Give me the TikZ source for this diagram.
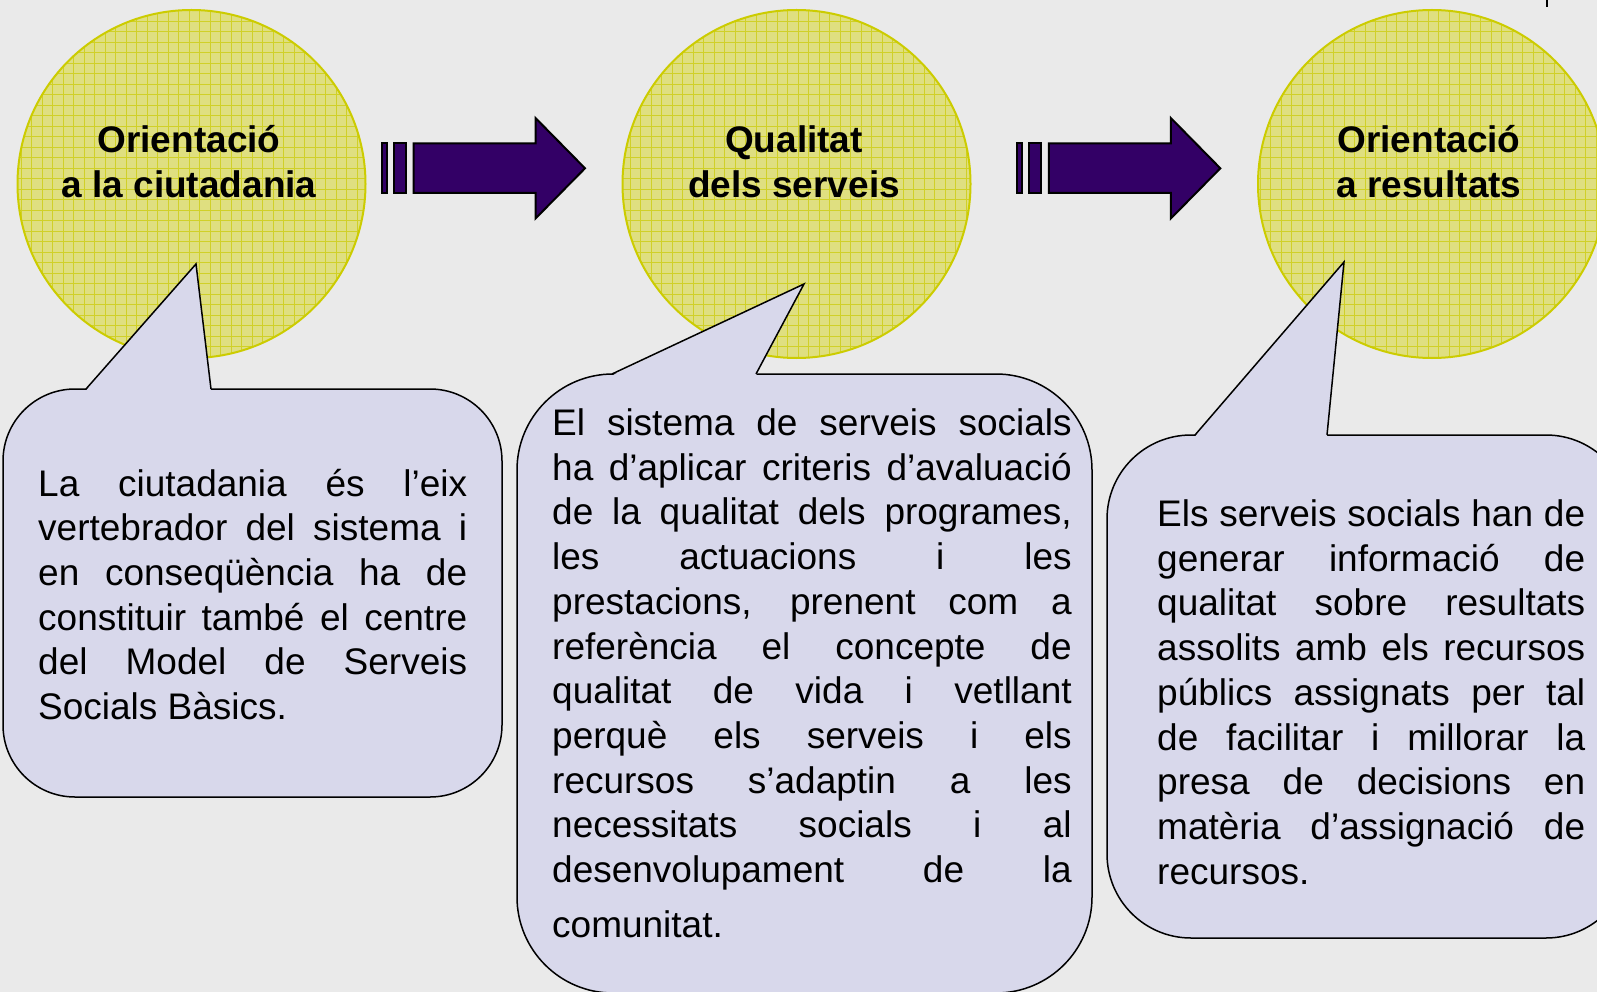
\documentclass[tikz,border=0pt]{standalone}
\usepackage{fontspec}
\setmainfont{Liberation Sans}
\usepackage{xcolor}
\definecolor{chart-bg}{HTML}{EAEAEA}
\definecolor{chart-circle}{HTML}{DFDF80}
\definecolor{chart-grid}{HTML}{D0D028}
\definecolor{chart-ring}{HTML}{CCCC00}
\definecolor{chart-callout}{HTML}{D8D8EB}
\definecolor{chart-arrow}{HTML}{330066}
\usepackage{tikz}

\newcommand{\chartfont}{\fontsize{37}{44.7}\selectfont}
\tolerance=10000
\hbadness=10000
\hyphenpenalty=10000

\begin{document}
\begin{tikzpicture}[x=1pt, y=-1pt,
    ring/.style={draw=chart-ring, line width=2pt},
    ringgrid/.style={draw=chart-grid, line width=0.9pt},
    blockarrow/.style={fill=chart-arrow, draw=black, line width=2pt},
    callout/.style={fill=chart-callout, draw=black, line width=1.5pt},
    title/.style={inner sep=0pt, anchor=base, font=\bfseries\chartfont},
    note/.style={inner sep=0pt, anchor=base west, font=\chartfont}]

    % Background
    \useasboundingbox (0,0) rectangle (1597,992);
    \clip (0,0) rectangle (1597,992);
    \fill[chart-bg] (0,0) rectangle (1597,992);
    \draw[line width=1.2pt] (1547,0) -- (1547,7);

    % Circles
    \foreach \cx in {191.5, 796.5, 1432} {
        \fill[chart-circle] (\cx,184) circle (174pt);
        \begin{scope}
            \clip (\cx,184) circle (174pt);
            \draw[ringgrid, step=10.5pt] (\cx-180,364) grid (\cx+180,4);
        \end{scope}
        \draw[ring] (\cx,184) circle (174pt);
    }

    % Titles
    \node[title] (title-a) at (189,153) {\parbox[t]{320pt}{\centering Orientació\\a la ciutadania}};
    \node[title] (title-b) at (794,153) {\parbox[t]{320pt}{\centering Qualitat\\dels serveis}};
    \node[title] (title-c) at (1429,153) {\parbox[t]{320pt}{\centering Orientació\\a resultats}};

    % Arrows
    \foreach \dx in {0, 635.3} {
        \begin{scope}[xshift=\dx]
            \draw[blockarrow] (381.5,143.5) rectangle (386.5,193);
            \draw[blockarrow] (394,143.5) rectangle (406,193);
            \draw[blockarrow] (413.5,143.5) -- (535.5,143.5) -- (535.5,118) -- (585,168.3) -- (535.5,218.5) -- (535.5,193) -- (413.5,193) -- cycle;
        \end{scope}
    }

    % Callouts
    \draw[callout, rounded corners=72pt] (3,389) rectangle (502,797);
    \fill[chart-callout] (86,390.5) -- (196,264) -- (211,390.5) -- cycle;
    \draw[callout, fill=none] (86,389) -- (196,264) -- (211,389);

    \draw[callout, rounded corners=96pt] (517,374) rectangle (1092,993);
    \fill[chart-callout] (612,375.5) -- (804,284) -- (756,375.5) -- cycle;
    \draw[callout, fill=none] (612,374) -- (804,284) -- (756,374);

    \draw[callout, rounded corners=84pt] (1107,435) rectangle (1630,938);
    \fill[chart-callout] (1195,436.5) -- (1344,262) -- (1327,436.5) -- cycle;
    \draw[callout, fill=none] (1195,435) -- (1344,262) -- (1327,435);

    % Texts
    \node[note] (note-a) at (38,496) {\parbox[t]{429pt}{%
        La ciutadania és l’eix\linebreak
        vertebrador del sistema i\linebreak
        en conseqüència ha de\linebreak
        constituir també el centre\linebreak
        del Model de Serveis\linebreak
        Socials Bàsics.}};

    \node[note] (note-b) at (552,435.5) {\parbox[t]{519.5pt}{%
        El sistema de serveis socials\linebreak
        ha d’aplicar criteris d’avaluació\linebreak
        de la qualitat dels programes,\linebreak
        les actuacions i les\linebreak
        prestacions, prenent com a\linebreak
        referència el concepte de\linebreak
        qualitat de vida i vetllant\linebreak
        perquè els serveis i els\linebreak
        recursos s’adaptin a les\linebreak
        necessitats socials i al\linebreak
        desenvolupament de la\vadjust{\vskip10.5pt}\linebreak
        comunitat.}};

    \node[note] (note-c) at (1157,526.5) {\parbox[t]{428pt}{%
        Els serveis socials han de\linebreak
        generar informació de\linebreak
        qualitat sobre resultats\linebreak
        assolits amb els recursos\linebreak
        públics assignats per tal\linebreak
        de facilitar i millorar la\linebreak
        presa de decisions en\linebreak
        matèria d’assignació de\linebreak
        recursos.}};

\end{tikzpicture}
\end{document}
